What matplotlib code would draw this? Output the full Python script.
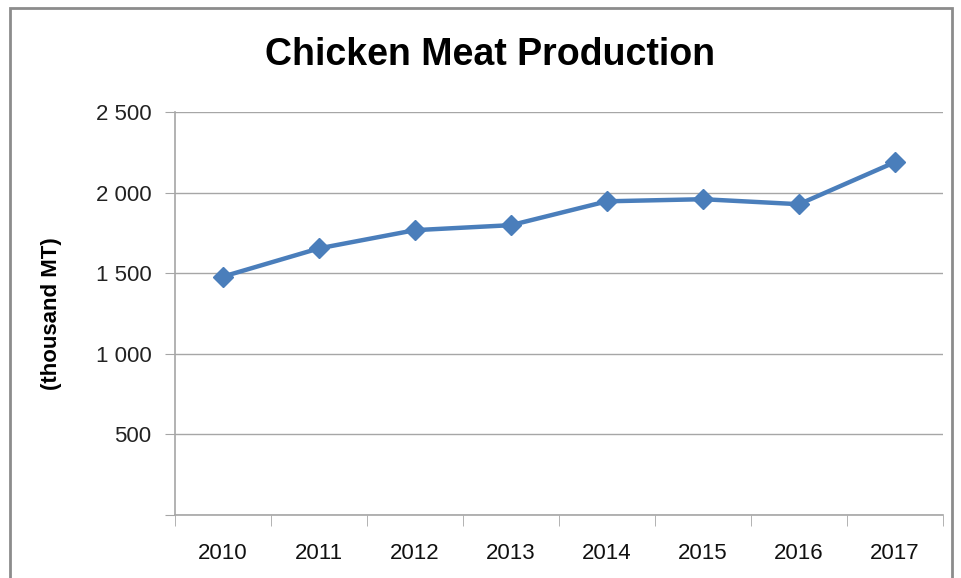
import matplotlib
matplotlib.use("Agg")
import matplotlib.pyplot as plt
from matplotlib.patches import Rectangle
from matplotlib.ticker import FuncFormatter, FixedLocator

# datos de producción de carne de pollo (miles de toneladas)
anios = ["2010", "2011", "2012", "2013", "2014", "2015", "2016", "2017"]
produccion = [1479, 1654, 1767, 1798, 1946, 1959, 1928, 2189]

azul = "#4A7EBB"
gris = "#a6a6a6"

plt.rcParams['font.family'] = ['Liberation Sans Narrow', 'Liberation Sans', 'DejaVu Sans']

fig = plt.figure(figsize=(9.61, 5.78), dpi=100)
ax = fig.add_axes([175/961, 1 - 515/578, (943 - 175)/961, (515 - 112)/578])

# marco del gráfico
fig.patches.append(Rectangle((10/961, -0.05), (952 - 10)/961, 1.05 - 8/578,
                             transform=fig.transFigure, fill=False,
                             edgecolor="#8c8c8c", linewidth=2))

x = list(range(len(anios)))
ax.plot(x, produccion, color=azul, linewidth=3.2, marker='D', markersize=10,
        markerfacecolor=azul, markeredgecolor=azul, zorder=3)

ax.set_xlim(-0.5, len(anios) - 0.5)
ax.set_ylim(0, 2500)
ax.set_yticks([0, 500, 1000, 1500, 2000, 2500])
ax.yaxis.set_major_formatter(FuncFormatter(
    lambda v, p: "" if v == 0 else f"{int(v):,}".replace(",", " ")))
ax.grid(axis='y', color=gris, linewidth=1)
ax.set_axisbelow(True)

ax.set_xticks(x)
ax.set_xticklabels(anios, fontsize=16)
ax.xaxis.set_minor_locator(FixedLocator([i - 0.5 for i in range(len(anios) + 1)]))
ax.tick_params(axis='x', which='major', length=0, pad=20)
ax.tick_params(axis='x', which='minor', length=8, color=gris, direction='out')
ax.tick_params(axis='y', length=7, color=gris, pad=10, labelcolor="#222222")
for lbl in ax.get_yticklabels():
    lbl.set_family(['Liberation Sans', 'DejaVu Sans'])
    lbl.set_fontsize(16)
for lbl in ax.get_xticklabels():
    lbl.set_color("#111111")

for s in ['top', 'right']:
    ax.spines[s].set_visible(False)
for s in ['left', 'bottom']:
    ax.spines[s].set_color(gris)
    ax.spines[s].set_linewidth(1.2)

ax.set_ylabel("(thousand MT)", fontsize=16, fontweight='bold',
              family=['Liberation Sans', 'DejaVu Sans'])
ax.yaxis.set_label_coords(-113/768, 0.5)

fig.text(490/961, 1 - 55/578, "Chicken Meat Production", fontsize=27,
         fontweight='bold', ha='center', va='center')

fig.savefig("out.png", dpi=100)
